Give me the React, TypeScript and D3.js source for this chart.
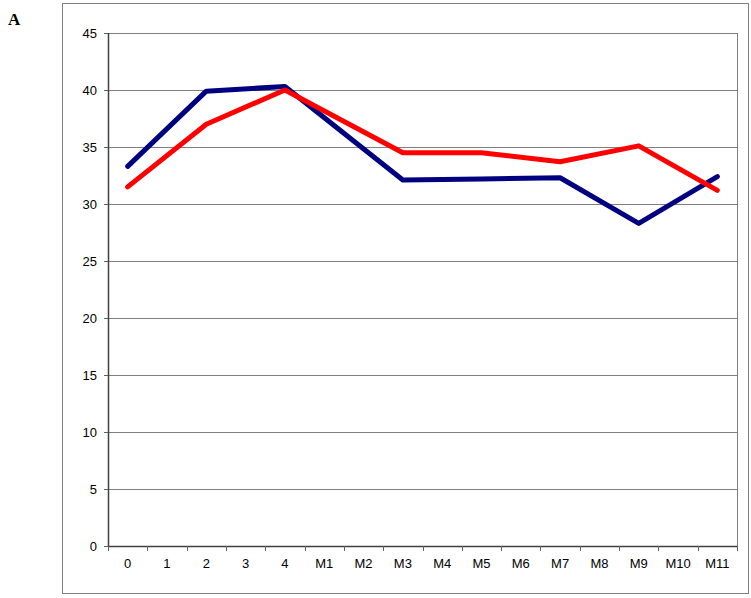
import * as d3 from 'd3'

const CATEGORIES = ['0', '1', '2', '3', '4', 'M1', 'M2', 'M3', 'M4', 'M5', 'M6', 'M7', 'M8', 'M9', 'M10', 'M11']
const MEASURED_AT = ['0', '2', '4', 'M3', 'M5', 'M7', 'M9', 'M11']
const BLUE_VALUES = [33.3, 39.9, 40.3, 32.1, 32.2, 32.3, 28.3, 32.4]
const RED_VALUES = [31.5, 37.0, 40.0, 34.5, 34.5, 33.7, 35.1, 31.2]
const Y_TICKS = [0, 5, 10, 15, 20, 25, 30, 35, 40, 45]

const W = 751
const H = 598
const PLOT = { left: 108, right: 737, top: 33, bottom: 546 }

export default function App() {
  const x = d3.scaleBand().domain(CATEGORIES).range([PLOT.left, PLOT.right])
  const y = d3.scaleLinear().domain([0, 45]).range([PLOT.bottom, PLOT.top])

  const line = d3.line<number>()
    .x((_, i) => x(MEASURED_AT[i])! + x.bandwidth() / 2)
    .y(d => y(d))

  const series = [
    { name: 'blue', color: '#000080', values: BLUE_VALUES },
    { name: 'red', color: '#ff0000', values: RED_VALUES }
  ]

  const font = 'Arial, "Liberation Sans", sans-serif'

  return (
    <svg width={W} height={H} style={{ position: 'absolute', left: 0, top: 0 }}>
      <rect x={0} y={0} width={W} height={H} fill="white" />
      <text x={8} y={25} fontFamily='"Times New Roman", "Liberation Serif", serif' fontWeight="bold" fontSize={17}>A</text>

      {/* outer frame */}
      <rect x={62.5} y={3.5} width={686} height={590} fill="none" stroke="#808080" strokeWidth={1} />

      {/* gridlines */}
      {Y_TICKS.filter(t => t > 0).map(t => (
        <line key={`g-${t}`} x1={PLOT.left} x2={PLOT.right} y1={Math.round(y(t)) + 0.5} y2={Math.round(y(t)) + 0.5} stroke="#808080" strokeWidth={1} />
      ))}
      {/* right border */}
      <line x1={PLOT.right + 0.5} x2={PLOT.right + 0.5} y1={PLOT.top} y2={PLOT.bottom} stroke="#808080" strokeWidth={1} />

      {/* y axis */}
      <line x1={PLOT.left + 0.5} x2={PLOT.left + 0.5} y1={PLOT.top} y2={PLOT.bottom + 1} stroke="#404040" strokeWidth={1.5} />
      {Y_TICKS.map(t => (
        <g key={`yt-${t}`}>
          <line x1={PLOT.left - 4} x2={PLOT.left} y1={Math.round(y(t)) + 0.5} y2={Math.round(y(t)) + 0.5} stroke="#606060" />
          <text x={97} y={y(t)} dy="0.35em" textAnchor="end" fontFamily={font} fontSize={13} fill="#000">{t}</text>
        </g>
      ))}

      {/* x axis */}
      <line x1={PLOT.left} x2={PLOT.right + 1} y1={PLOT.bottom + 0.5} y2={PLOT.bottom + 0.5} stroke="#404040" strokeWidth={1.5} />
      {CATEGORIES.map(c => (
        <line key={`xt-${c}`} x1={Math.round(x(c)!) + 0.5} x2={Math.round(x(c)!) + 0.5} y1={PLOT.bottom} y2={PLOT.bottom + 5} stroke="#606060" />
      ))}
      <line x1={PLOT.right + 0.5} x2={PLOT.right + 0.5} y1={PLOT.bottom} y2={PLOT.bottom + 5} stroke="#606060" />
      {CATEGORIES.map(c => (
        <text key={`xl-${c}`} x={x(c)! + x.bandwidth() / 2} y={568} textAnchor="middle" fontFamily={font} fontSize={13} fill="#000">{c}</text>
      ))}

      {/* series */}
      {series.map(s => (
        <path key={s.name} d={line(s.values) ?? ''} fill="none" stroke={s.color} strokeWidth={5} strokeLinejoin="round" strokeLinecap="round" />
      ))}
    </svg>
  )
}
